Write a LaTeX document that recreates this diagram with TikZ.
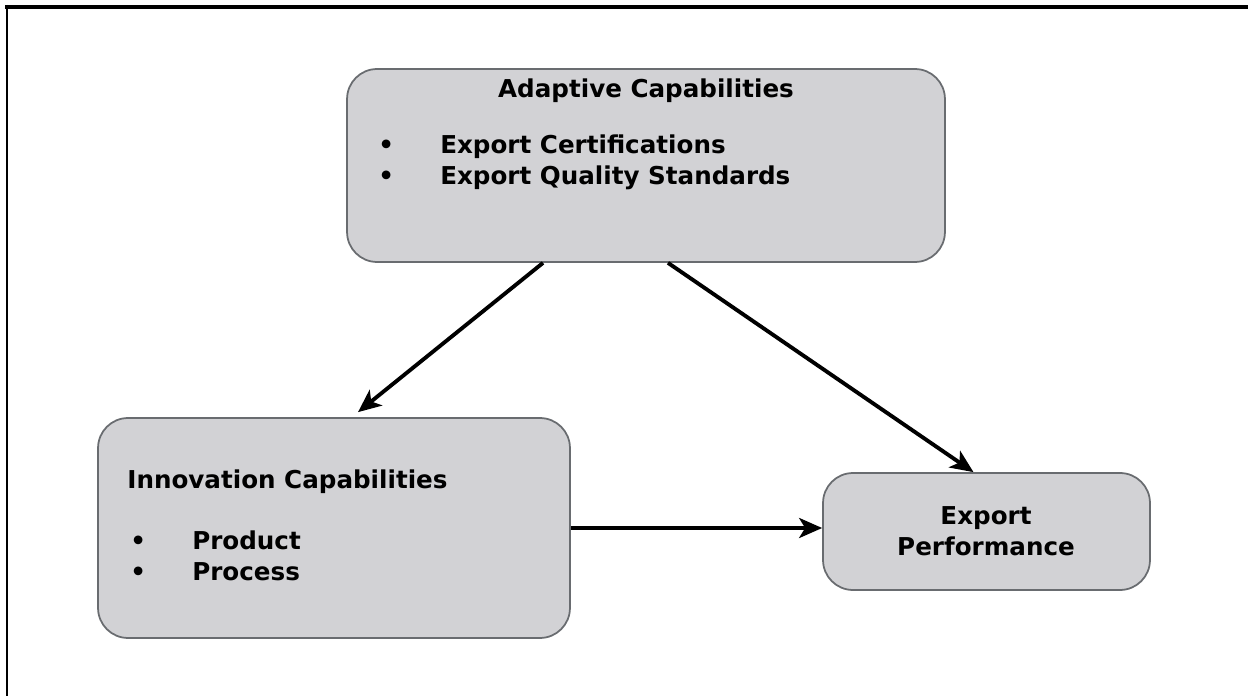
\documentclass[tikz,border=0pt]{standalone}
\usepackage{fontspec}
\setmainfont{DejaVu Sans}
\usetikzlibrary{arrows.meta}

\definecolor{boxfill}{RGB}{210,210,213}
\definecolor{boxline}{RGB}{105,108,112}

\tikzset{
  capbox/.style={draw=boxline,fill=boxfill,line width=1pt,rounded corners=0.6cm,inner sep=0pt},
  captext/.style={font=\bfseries\fontsize{14}{17.5}\selectfont,inner sep=0pt},
  flow/.style={-{Stealth[length=0.46cm,width=0.4cm,inset=0.12cm]},line width=2.2pt}
}
\newcommand{\bulletitem}[2][1.3cm]{\makebox[#1][l]{\hspace{0.06cm}\textbullet}#2}

\begin{document}
\begin{tikzpicture}[x=0.02cm,y=-0.02cm]
				\useasboundingbox (0,0) rectangle (1248,696);
				\fill[white] (0,0) rectangle (1248,696);
				% frame, only top and left are visible
				\draw[line width=2.1pt] (5,7) -- (1248,7);
				\draw[line width=1.4pt] (7,5) -- (7,696);
				\node[capbox,minimum width=11.96cm,minimum height=3.86cm] (adaptive) at (646,165.5) {};
				\node[capbox,minimum width=9.44cm,minimum height=4.4cm] (innov) at (334,528) {};
				\node[capbox,minimum width=6.54cm,minimum height=2.34cm] (perf) at (986.5,531.5) {};
				\node[captext] (adaptivetitle) at (646,91) {Adaptive Capabilities};
				\node[captext,anchor=west,align=left] (adaptivelist) at (375,162) {\bulletitem{Export Certifications}\\\bulletitem{Export Quality Standards}};
				\node[captext,anchor=west] (innovtitle) at (127,482) {Innovation Capabilities};
				\node[captext,anchor=west,align=left] (innovlist) at (127,556) {\bulletitem{Product}\\\bulletitem{Process}};
				\node[captext,align=center] (perftext) at (986,531) {Export\\Performance};
				\draw[flow] ([xshift=-2.06cm]adaptive.south) to ([xshift=0.48cm,yshift=0.1cm]innov.north);
				\draw[flow] ([xshift=0.44cm]adaptive.south) to ([xshift=-0.26cm]perf.north);
				\draw[flow] (innov.east) to (innov.east -| perf.west);
			\end{tikzpicture}
\end{document}
